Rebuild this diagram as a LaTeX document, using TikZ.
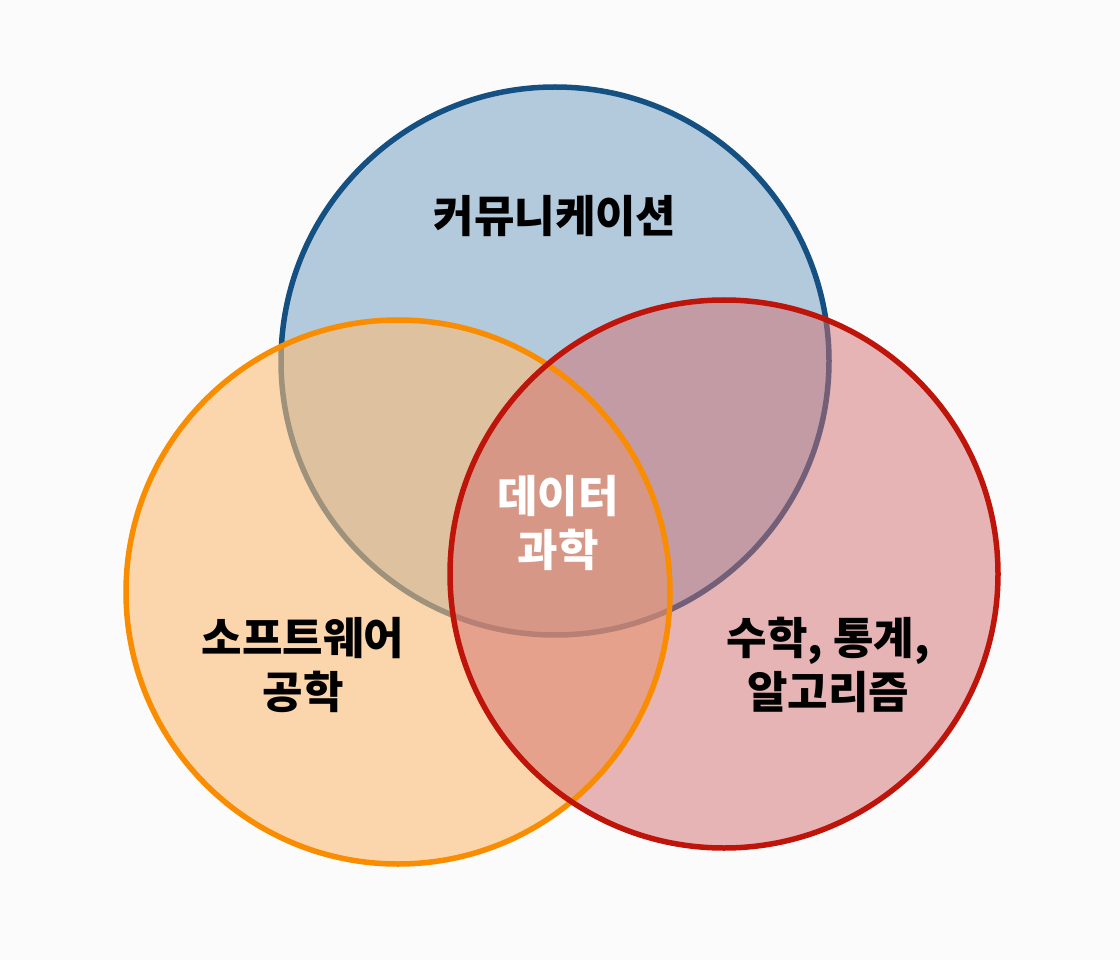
\documentclass[tikz,border=0pt]{standalone}
\usepackage{fontspec}
\newfontfamily\kr{Noto Sans CJK KR}
\definecolor{commBlue}{RGB}{20,80,130}
\definecolor{commFill}{RGB}{120,160,195}
\definecolor{softOrange}{RGB}{250,140,0}
\definecolor{softFill}{RGB}{252,190,120}
\definecolor{mathRed}{RGB}{190,20,10}
\definecolor{mathFill}{RGB}{210,110,110}
\tikzset{
  field/.style={font=\kr\bfseries\fontsize{44}{54}\selectfont, align=center},
  ring/.style={line width=5.5pt}
}
\begin{document}
\begin{tikzpicture}[x=1pt,y=-1pt]
\useasboundingbox[fill=white!97!gray] (0,0) rectangle (1120,960);
% circles
\fill[commFill, fill opacity=0.55] (555,361) circle (274);
\draw[ring, commBlue] (555,361) circle (274);
\fill[softFill, fill opacity=0.6] (398,592) circle (272);
\fill[mathFill, fill opacity=0.5] (724,574) circle (274);
\draw[ring, softOrange] (398,592) circle (272);
\draw[ring, mathRed] (724,574) circle (274);
% labels
\node[field] (comm) at (555,216) {커뮤니케이션};
\node[field] (soft) at (303,665) {소프트웨어\\공학};
\node[field] (math) at (828,665) {수학, 통계,\\알고리즘};
\node[field, text=white] (ds) at (558,523) {데이터\\과학};
\end{tikzpicture}
\end{document}
